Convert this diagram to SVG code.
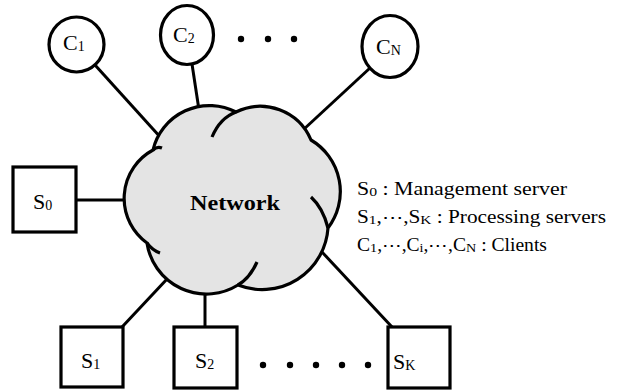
<svg xmlns="http://www.w3.org/2000/svg" width="620" height="390" viewBox="0 0 620 390">
<style>
.node{fill:#fff;stroke:#000;stroke-width:3.2}
.conn line{stroke:#000;stroke-width:3}
.lbl{font-family:"Liberation Serif","Times New Roman",serif;font-size:22px;fill:#000}
.sub{font-size:14px}
.leg{font-family:"Liberation Serif","Times New Roman",serif;font-size:18px;fill:#000}
.lsub{font-size:13px}
.dot{fill:#000}
</style>
<rect width="620" height="390" fill="#fff"/>
<g id="connectors" class="conn">
<line x1="95" y1="65" x2="162" y2="139"/>
<line x1="192" y1="64" x2="199" y2="110"/>
<line x1="370" y1="68" x2="303" y2="130"/>
<line x1="76" y1="200" x2="130" y2="200"/>
<line x1="122" y1="327" x2="168" y2="278"/>
<line x1="205" y1="327" x2="205" y2="290"/>
<line x1="392" y1="327" x2="322" y2="252"/>
</g>
<g id="network">
<path d="M153,150 A58,58 0 0 1 236,112 A55,55 0 0 1 311,140 A60,60 0 0 1 328,228 A66,66 0 0 1 238,285 A60,60 0 0 1 147,243 A55,55 0 0 1 153,150 Z" fill="#e4e4e4" stroke="#000" stroke-width="3.2"/>
<g fill="none" stroke="#000" stroke-width="3.2">
<path d="M153,150 Q157,146 162,148"/>
<path d="M212,137 Q220,118 236,112"/>
<path d="M311,197 Q323,208 328,228"/>
<path d="M257,262 Q250,278 238,285"/>
<path d="M147,243 Q152,250 160,253"/>
</g>
<text x="190" y="210" font-family="Liberation Serif,Times New Roman,serif" font-weight="bold" font-size="22" textLength="90" lengthAdjust="spacingAndGlyphs">Network</text>
</g>
<g id="C1">
<circle class="node" cx="76.5" cy="44.5" r="27.5"/>
<text class="lbl" x="63" y="50">C<tspan class="sub" dy="1">1</tspan></text>
</g>
<g id="C2">
<ellipse class="node" cx="187" cy="35" rx="26.5" ry="29.5"/>
<text class="lbl" x="173" y="42">C<tspan class="sub" dy="1">2</tspan></text>
</g>
<g id="CN">
<ellipse class="node" cx="390" cy="46.5" rx="28" ry="31"/>
<text class="lbl" x="376" y="54">C<tspan class="sub" dy="1">N</tspan></text>
</g>
<g id="S0">
<rect class="node" x="13" y="167" width="63" height="65"/>
<text class="lbl" x="33" y="209">S<tspan class="sub" dy="1">0</tspan></text>
</g>
<g id="S1">
<rect class="node" x="61" y="327" width="62" height="60"/>
<text class="lbl" x="81" y="368">S<tspan class="sub" dy="1">1</tspan></text>
</g>
<g id="S2">
<rect class="node" x="174" y="327" width="63" height="61"/>
<text class="lbl" x="195" y="368">S<tspan class="sub" dy="1">2</tspan></text>
</g>
<g id="SK">
<rect class="node" x="388" y="327" width="62" height="61"/>
<text class="lbl" x="393" y="369">S<tspan class="sub" dy="1">K</tspan></text>
</g>
<g id="dots">
<circle class="dot" cx="241" cy="39" r="3.2"/>
<circle class="dot" cx="268" cy="39" r="3.2"/>
<circle class="dot" cx="294" cy="39" r="3.2"/>
<circle class="dot" cx="263" cy="365" r="3.2"/>
<circle class="dot" cx="290" cy="365" r="3.2"/>
<circle class="dot" cx="316" cy="365" r="3.2"/>
<circle class="dot" cx="342" cy="365" r="3.2"/>
<circle class="dot" cx="368" cy="365" r="3.2"/>
</g>
<g id="legend">
<text class="leg" x="357" y="195" textLength="210" lengthAdjust="spacingAndGlyphs">S<tspan class="lsub" dy="1">0</tspan><tspan dy="-1"> : Management  server</tspan></text>
<text class="leg" x="357" y="223" textLength="249" lengthAdjust="spacingAndGlyphs">S<tspan class="lsub" dy="1">1</tspan><tspan dy="-1">,⋯,S</tspan><tspan class="lsub" dy="1">K</tspan><tspan dy="-1"> : Processing  servers</tspan></text>
<text class="leg" x="357" y="251" textLength="190" lengthAdjust="spacingAndGlyphs">C<tspan class="lsub" dy="1">1</tspan><tspan dy="-1">,⋯,C</tspan><tspan class="lsub" dy="1">i</tspan><tspan dy="-1">,⋯,C</tspan><tspan class="lsub" dy="1">N</tspan><tspan dy="-1"> : Clients</tspan></text>
</g>
</svg>
